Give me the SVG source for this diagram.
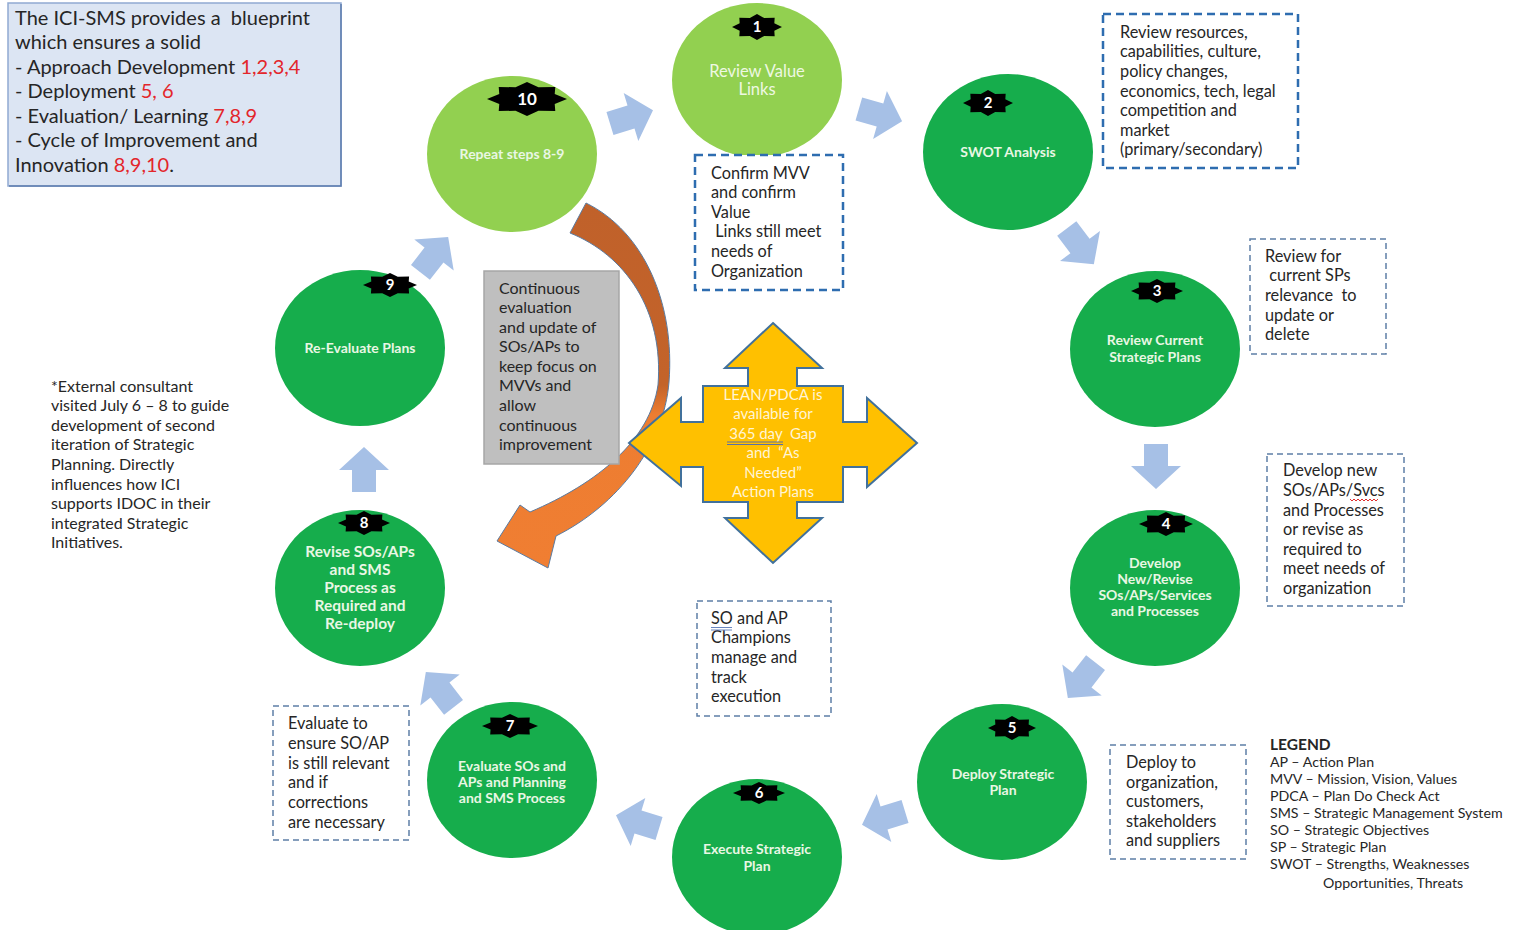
<svg xmlns="http://www.w3.org/2000/svg" xmlns:xlink="http://www.w3.org/1999/xlink" width="1522" height="930" viewBox="0 0 1522 930">
<style>
  .t { font-family: Lato, "Open Sans", "Liberation Sans", sans-serif; fill: #262626; }
  .box { font-size: 16.3px; }
  .ct { font-family: Lato, "Open Sans", "Liberation Sans", sans-serif; font-weight: bold; fill: #E9F7E4; text-anchor: middle; font-size: 14px; }
  .ct1 { font-family: Lato, "Open Sans", "Liberation Sans", sans-serif; font-weight: normal; fill: #EEF8E2; text-anchor: middle; font-size: 16.5px; }
  .ct8 { font-family: Lato, "Open Sans", "Liberation Sans", sans-serif; font-weight: bold; fill: #E9F7E4; text-anchor: middle; font-size: 15.5px; }
  .num { font-family: Lato, "Open Sans", "Liberation Sans", sans-serif; font-weight: bold; fill: #FFFFFF; text-anchor: middle; font-size: 15px; }
  .num10 { font-family: Lato, "Open Sans", "Liberation Sans", sans-serif; font-weight: bold; fill: #FFFFFF; text-anchor: middle; font-size: 17px; }
  .dg { fill: #16AD4C; }
  .lg { fill: #92D050; }
  .star { fill: #000000; }
  .dashA { fill: #FFFFFF; stroke: #2E6DB0; stroke-width: 2.5; stroke-dasharray: 8 5; }
  .dashB { fill: #FFFFFF; stroke: #5E7FA6; stroke-width: 1.5; stroke-dasharray: 6 4; }
  .blk { fill: #A6C0E6; }
  .red { fill: #E3262B; }
  .leg { font-size: 14.2px; }
  .legh { font-size: 15.5px; font-weight: bold; }
  .info { font-size: 20px; }
  .cons { font-size: 16px; }
  .gray { font-size: 16px; }
</style>
<defs>
  <path id="star" d="M1,0 L0.693,0.287 L0.707,0.707 L0.287,0.693 L0,1 L-0.287,0.693 L-0.707,0.707 L-0.693,0.287 L-1,0 L-0.693,-0.287 L-0.707,-0.707 L-0.287,-0.693 L0,-1 L0.287,-0.693 L0.707,-0.707 L0.693,-0.287 Z"/>
  <path id="blk" d="M-22,-12 L0,-12 L0,-25 L23,0 L0,25 L0,12 L-22,12 Z"/>
  <linearGradient id="og" gradientUnits="userSpaceOnUse" x1="0" y1="200" x2="0" y2="570">
    <stop offset="0" stop-color="#C0612A"/>
    <stop offset="0.5" stop-color="#C3632A"/>
    <stop offset="0.58" stop-color="#ED7D31"/>
    <stop offset="1" stop-color="#F07E32"/>
  </linearGradient>
</defs>
<rect width="1522" height="930" fill="#FFFFFF"/>

<!-- Info box -->
<g id="info">
  <rect x="8" y="3" width="333" height="183" fill="#DCE5F3" stroke="#90A9D2" stroke-width="1.5"/>
  <path d="M341,4 L341,186 L9,186" fill="none" stroke="#5F7EAE" stroke-width="1.5"/>
  <g class="t info">
    <text x="15" y="25">The ICI-SMS provides a&#160; blueprint</text>
    <text x="15" y="49">which ensures a solid</text>
    <text x="15" y="74">- Approach Development <tspan class="red">1,2,3,4</tspan></text>
    <text x="15" y="98">- Deployment <tspan class="red">5, 6</tspan></text>
    <text x="15" y="123">- Evaluation/ Learning <tspan class="red">7,8,9</tspan></text>
    <text x="15" y="147">- Cycle of Improvement and</text>
    <text x="15" y="172">Innovation <tspan class="red">8,9,10</tspan>.</text>
  </g>
</g>

<!-- Connectors -->
<g id="connectors">
  <use href="#blk" class="blk" transform="translate(631,117) rotate(-17)"/>
  <use href="#blk" class="blk" transform="translate(880,115) rotate(16)"/>
  <use href="#blk" class="blk" transform="translate(1080,246) rotate(53)"/>
  <use href="#blk" class="blk" transform="translate(1156,466) rotate(90)"/>
  <use href="#blk" class="blk" transform="translate(1082,680) rotate(128)"/>
  <use href="#blk" class="blk" transform="translate(884,818) rotate(163)"/>
  <use href="#blk" class="blk" transform="translate(638,822) rotate(197)"/>
  <use href="#blk" class="blk" transform="translate(440,690) rotate(232)"/>
  <use href="#blk" class="blk" transform="translate(364,470) rotate(-90)"/>
  <use href="#blk" class="blk" transform="translate(434,255) rotate(-52)"/>
  <path id="orange-arrow" d="M586,203 C645,232 675,305 669,382 C664,445 618,505 556,536 L548,568 L497,541 L520,505 L530,512 C598,483 650,440 658,385 C664,310 625,255 570,233 Z" fill="url(#og)" stroke="#5B7BA0" stroke-width="1"/>
</g>

<!-- Gray box -->
<g id="gray-box">
  <rect x="484" y="271" width="135" height="193" fill="#BFBFBF" stroke="#A6A6A6" stroke-width="1.5"/>
  <g class="t gray">
    <text x="499" y="294">Continuous</text>
    <text x="499" y="313">evaluation</text>
    <text x="499" y="333">and update of</text>
    <text x="499" y="352">SOs/APs to</text>
    <text x="499" y="372">keep focus on</text>
    <text x="499" y="391">MVVs and</text>
    <text x="499" y="411">allow</text>
    <text x="499" y="431">continuous</text>
    <text x="499" y="450">improvement</text>
  </g>
</g>

<!-- Yellow quad arrow -->
<g id="lean-pdca">
  <path d="M773,323 L822,368 L797,368 L797,386 L843,386 L843,422 L867,422 L867,398 L917,443 L867,487 L867,467 L843,467 L843,502 L797,502 L797,518 L822,518 L773,563 L725,518 L748,518 L748,502 L703,502 L703,467 L681,467 L681,486 L629,443 L681,398 L681,422 L703,422 L703,386 L748,386 L748,368 L725,368 Z" fill="#FFC000" stroke="#41719C" stroke-width="2" stroke-linejoin="miter"/>
  <g font-family="Lato, 'Open Sans', 'Liberation Sans', sans-serif" font-size="15px" fill="#FFF4D4" text-anchor="middle">
    <text x="773" y="400">LEAN/PDCA is</text>
    <text x="773" y="419">available for</text>
    <text x="773" y="439">365 day&#160; Gap</text>
    <text x="773" y="458">and&#160; “As</text>
    <text x="773" y="478">Needed”</text>
    <text x="773" y="497">Action Plans</text>
  </g>
  <path d="M727,442 L783,442 M727,444.5 L783,444.5" stroke="#5A6FA8" stroke-width="1"/>
</g>

<!-- Circles -->
<g id="step1">
  <ellipse class="lg" cx="757" cy="80" rx="85" ry="77"/>
  <use href="#star" class="star" transform="translate(757,27) scale(25,13)"/>
  <text class="num" x="757" y="32">1</text>
  <text class="ct1" x="757" y="77">Review Value</text>
  <text class="ct1" x="757" y="95">Links</text>
</g>
<g id="step2">
  <ellipse class="dg" cx="1008" cy="152" rx="85" ry="78"/>
  <use href="#star" class="star" transform="translate(988,103) scale(25,13)"/>
  <text class="num" x="988" y="108">2</text>
  <text class="ct" x="1008" y="157">SWOT Analysis</text>
</g>
<g id="step3">
  <ellipse class="dg" cx="1155" cy="349" rx="85" ry="78"/>
  <use href="#star" class="star" transform="translate(1157,291) scale(26,12)"/>
  <text class="num" x="1157" y="296">3</text>
  <text class="ct" x="1155" y="345">Review Current</text>
  <text class="ct" x="1155" y="362">Strategic Plans</text>
</g>
<g id="step4">
  <ellipse class="dg" cx="1155" cy="588" rx="85" ry="78"/>
  <use href="#star" class="star" transform="translate(1166,524) scale(27,12)"/>
  <text class="num" x="1166" y="529">4</text>
  <text class="ct" x="1155" y="568">Develop</text>
  <text class="ct" x="1155" y="584">New/Revise</text>
  <text class="ct" x="1155" y="600">SOs/APs/Services</text>
  <text class="ct" x="1155" y="616">and Processes</text>
</g>
<g id="step5">
  <ellipse class="dg" cx="1002" cy="782" rx="85" ry="78"/>
  <use href="#star" class="star" transform="translate(1012,728) scale(24,12)"/>
  <text class="num" x="1012" y="733">5</text>
  <text class="ct" x="1003" y="779">Deploy Strategic</text>
  <text class="ct" x="1003" y="795">Plan</text>
</g>
<g id="step6">
  <ellipse class="dg" cx="757" cy="857" rx="85" ry="78"/>
  <use href="#star" class="star" transform="translate(759,793) scale(26,11)"/>
  <text class="num" x="759" y="798">6</text>
  <text class="ct" x="757" y="854">Execute Strategic</text>
  <text class="ct" x="757" y="871">Plan</text>
</g>
<g id="step7">
  <ellipse class="dg" cx="512" cy="780" rx="85" ry="78"/>
  <use href="#star" class="star" transform="translate(510,726) scale(28,12)"/>
  <text class="num" x="510" y="731">7</text>
  <text class="ct" x="512" y="771">Evaluate SOs and</text>
  <text class="ct" x="512" y="787">APs and Planning</text>
  <text class="ct" x="512" y="803">and SMS Process</text>
</g>
<g id="step8">
  <ellipse class="dg" cx="360" cy="588" rx="85" ry="78"/>
  <use href="#star" class="star" transform="translate(364,523) scale(26,12)"/>
  <text class="num" x="364" y="528">8</text>
  <text class="ct8" x="360" y="557">Revise SOs/APs</text>
  <text class="ct8" x="360" y="575">and SMS</text>
  <text class="ct8" x="360" y="593">Process as</text>
  <text class="ct8" x="360" y="611">Required and</text>
  <text class="ct8" x="360" y="629">Re-deploy</text>
</g>
<g id="step9">
  <ellipse class="dg" cx="360" cy="348" rx="85" ry="78"/>
  <use href="#star" class="star" transform="translate(390,285) scale(27,12)"/>
  <text class="num" x="390" y="290">9</text>
  <text class="ct" x="360" y="353">Re-Evaluate Plans</text>
</g>
<g id="step10">
  <ellipse class="lg" cx="512" cy="154" rx="85" ry="78"/>
  <use href="#star" class="star" transform="translate(527,99) scale(40,17)"/>
  <text class="num10" x="527" y="105">10</text>
  <text class="ct" x="512" y="159">Repeat steps 8-9</text>
</g>

<!-- Dashed note boxes -->
<g id="note-mvv">
  <rect class="dashA" x="695" y="155" width="148" height="135"/>
  <g class="t box">
    <text x="711" y="179">Confirm MVV</text>
    <text x="711" y="198">and confirm</text>
    <text x="711" y="218">Value</text>
    <text x="711" y="237">&#160;Links still meet</text>
    <text x="711" y="257">needs of</text>
    <text x="711" y="277">Organization</text>
  </g>
</g>
<g id="note-swot">
  <rect class="dashA" x="1103" y="14" width="195" height="154"/>
  <g class="t box">
    <text x="1120" y="38">Review resources,</text>
    <text x="1120" y="57">capabilities, culture,</text>
    <text x="1120" y="77">policy changes,</text>
    <text x="1120" y="97">economics, tech, legal</text>
    <text x="1120" y="116">competition and</text>
    <text x="1120" y="136">market</text>
    <text x="1120" y="155">(primary/secondary)</text>
  </g>
</g>
<g id="note-review">
  <rect class="dashB" x="1250" y="239" width="136" height="115"/>
  <g class="t box">
    <text x="1265" y="262">Review for</text>
    <text x="1265" y="281">&#160;current SPs</text>
    <text x="1265" y="301">relevance&#160; to</text>
    <text x="1265" y="321">update or</text>
    <text x="1265" y="340">delete</text>
  </g>
</g>
<g id="note-develop">
  <rect class="dashB" x="1267" y="454" width="137" height="152"/>
  <g class="t box">
    <text x="1283" y="476">Develop new</text>
    <text x="1283" y="496">SOs/APs/Svcs</text>
    <text x="1283" y="516">and Processes</text>
    <text x="1283" y="535">or revise as</text>
    <text x="1283" y="555">required to</text>
    <text x="1283" y="574">meet needs of</text>
    <text x="1283" y="594">organization</text>
  </g>
  <path d="M1350,499 l2,2 l2,-2 l2,2 l2,-2 l2,2 l2,-2 l2,2 l2,-2 l2,2 l2,-2 l2,2 l2,-2 l2,2 l2,-2" fill="none" stroke="#E03030" stroke-width="1"/>
</g>
<g id="note-champions">
  <rect class="dashB" x="697" y="601" width="134" height="115"/>
  <g class="t box">
    <text x="711" y="624">SO and AP</text>
    <text x="711" y="643">Champions</text>
    <text x="711" y="663">manage and</text>
    <text x="711" y="683">track</text>
    <text x="711" y="702">execution</text>
  </g>
  <path d="M711,627.5 L732,627.5 M711,630 L732,630" stroke="#6A86C0" stroke-width="1"/>
</g>
<g id="note-deploy">
  <rect class="dashB" x="1110" y="745" width="136" height="114"/>
  <g class="t box">
    <text x="1126" y="768">Deploy to</text>
    <text x="1126" y="788">organization,</text>
    <text x="1126" y="807">customers,</text>
    <text x="1126" y="827">stakeholders</text>
    <text x="1126" y="846">and suppliers</text>
  </g>
</g>
<g id="note-evaluate">
  <rect class="dashB" x="273" y="706" width="136" height="134"/>
  <g class="t box">
    <text x="288" y="729">Evaluate to</text>
    <text x="288" y="749">ensure SO/AP</text>
    <text x="288" y="769">is still relevant</text>
    <text x="288" y="788">and if</text>
    <text x="288" y="808">corrections</text>
    <text x="288" y="828">are necessary</text>
  </g>
</g>

<!-- External consultant note -->
<g id="consultant" class="t cons">
  <text x="51" y="392">*External consultant</text>
  <text x="51" y="411">visited July 6 – 8 to guide</text>
  <text x="51" y="431">development of second</text>
  <text x="51" y="450">iteration of Strategic</text>
  <text x="51" y="470">Planning. Directly</text>
  <text x="51" y="490">influences how ICI</text>
  <text x="51" y="509">supports IDOC in their</text>
  <text x="51" y="529">integrated Strategic</text>
  <text x="51" y="548">Initiatives.</text>
</g>

<!-- Legend -->
<g id="legend" class="t leg">
  <text class="legh" x="1270" y="750">LEGEND</text>
  <text x="1270" y="767">AP – Action Plan</text>
  <text x="1270" y="784">MVV – Mission, Vision, Values</text>
  <text x="1270" y="801">PDCA – Plan Do Check Act</text>
  <text x="1270" y="818">SMS – Strategic Management System</text>
  <text x="1270" y="835">SO – Strategic Objectives</text>
  <text x="1270" y="852">SP – Strategic Plan</text>
  <text x="1270" y="869">SWOT – Strengths, Weaknesses</text>
  <text x="1323" y="888">Opportunities, Threats</text>
</g>
</svg>
